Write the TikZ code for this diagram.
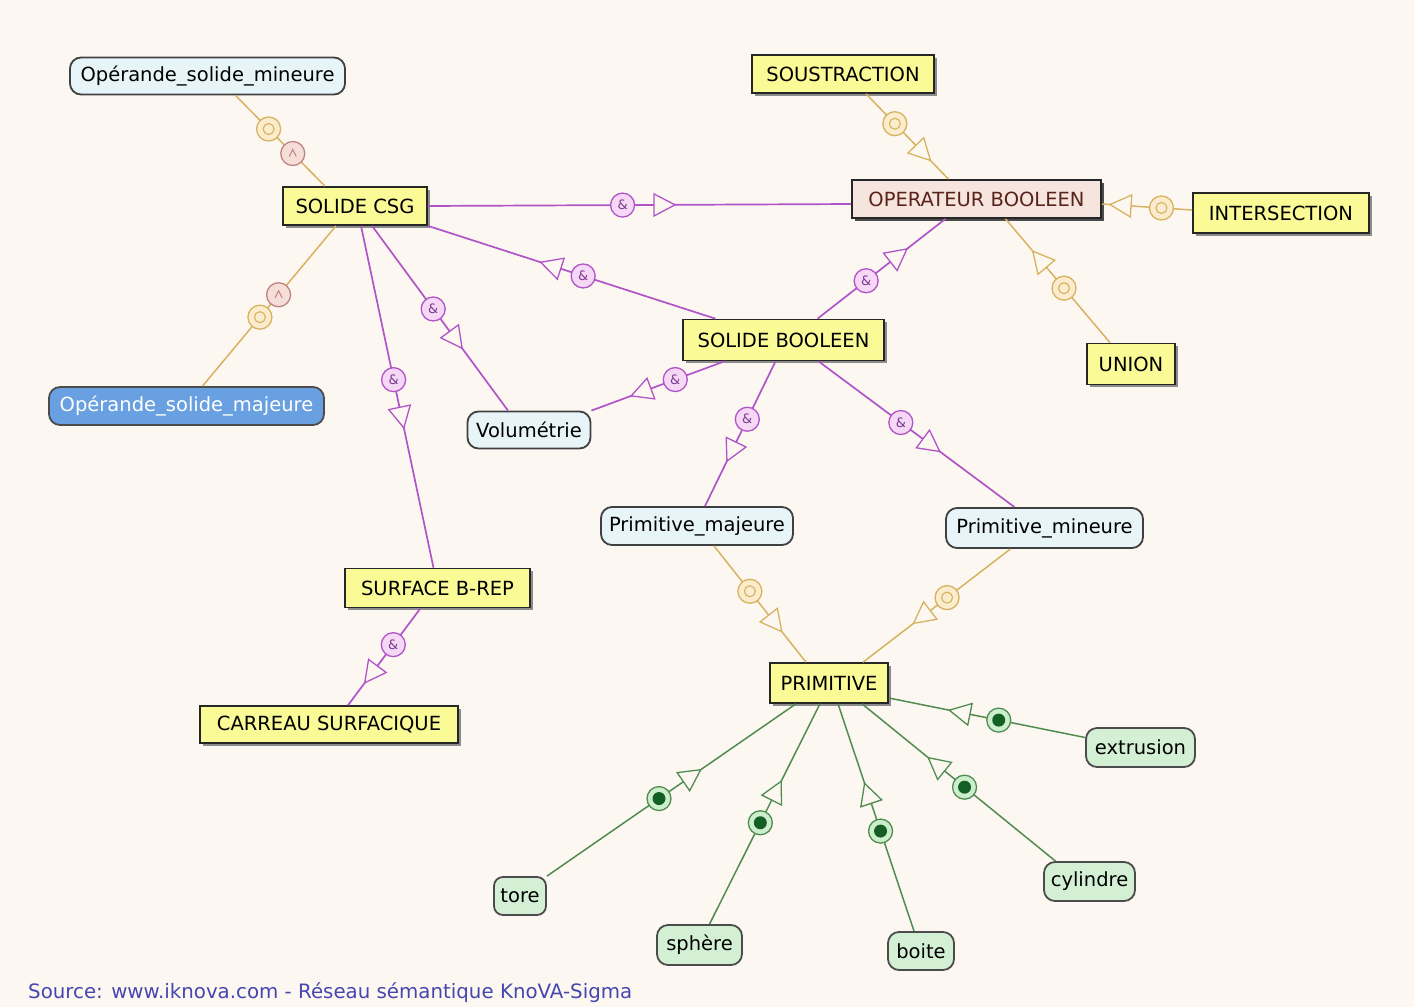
\documentclass[tikz,border=0pt]{standalone}
\usepackage{fontspec}
\setmainfont{DejaVu Sans}
\usetikzlibrary{shapes.geometric,shadows}
\definecolor{bg}{RGB}{253,247,242}
\definecolor{yfill}{RGB}{250,250,150}
\definecolor{obfill}{RGB}{246,228,222}
\definecolor{obtext}{RGB}{90,35,25}
\definecolor{bfill}{RGB}{232,245,248}
\definecolor{dbfill}{RGB}{105,160,225}
\definecolor{gfill}{RGB}{212,240,212}
\definecolor{pcol}{RGB}{175,85,200}
\definecolor{pfill}{RGB}{246,215,246}
\definecolor{ocol}{RGB}{215,178,95}
\definecolor{ofill}{RGB}{250,236,205}
\definecolor{scol}{RGB}{190,130,130}
\definecolor{sfill}{RGB}{246,222,216}
\definecolor{gcol}{RGB}{80,140,80}
\definecolor{gdark}{RGB}{20,95,35}
\definecolor{gmfill}{RGB}{205,238,205}
\definecolor{srccol}{RGB}{70,70,175}
\newcommand\nf{\fontsize{19.5}{22}\selectfont}
\begin{document}
\begin{tikzpicture}[x=1pt,y=-1pt,
  ybox/.style={draw=black!85, line width=1.6pt, fill=yfill, inner sep=2pt, font=\nf,
    drop shadow={shadow xshift=2.5pt, shadow yshift=-2.5pt, fill=black!45, opacity=1}},
  rbox/.style={draw=black!75, line width=1.8pt, fill=bfill, rounded corners=11pt, inner sep=2pt, font=\nf},
  gbox/.style={rbox, fill=gfill, draw=black!70},
  pline/.style={draw=pcol, line width=1.7pt},
  oline/.style={draw=ocol, line width=1.5pt},
  gline/.style={draw=gcol, line width=1.5pt},
  ampm/.style={circle, draw=pcol, fill=pfill, line width=1.3pt, minimum size=24pt, inner sep=0pt,
    font=\fontsize{13}{13}\selectfont, text=pcol!70!black},
  goldm/.style={circle, draw=ocol, fill=ofill, line width=1.3pt, minimum size=24pt, inner sep=0pt,
    path picture={\draw[ocol, line width=1.1pt] (path picture bounding box.center) circle (5.5pt);}},
  salm/.style={circle, draw=scol, fill=sfill, line width=1.3pt, minimum size=24pt, inner sep=0pt,
    path picture={\draw[scol, line width=1pt] ([xshift=-3.5pt,yshift=-3pt]path picture bounding box.center) -- ([yshift=4pt]path picture bounding box.center) -- ([xshift=3.5pt,yshift=-3pt]path picture bounding box.center);}},
  greenm/.style={circle, draw=gcol, fill=gmfill, line width=1.3pt, minimum size=24pt, inner sep=0pt,
    path picture={\fill[gdark] (path picture bounding box.center) circle (6.5pt);}},
  tri/.style={isosceles triangle, isosceles triangle apex angle=60, isosceles triangle stretches,
    minimum width=22pt, minimum height=21pt, inner sep=0pt, fill=bg, line width=1.3pt,
    sloped, allow upside down},
  ptri/.style={tri, draw=pcol},
  otri/.style={tri, draw=ocol},
  gtri/.style={tri, draw=gcol}
]
\fill[bg] (0,0) rectangle (1414,1007);
\useasboundingbox (0,0) rectangle (1414,1007);

% nodes
\node[rbox, minimum width=275pt, minimum height=37pt] (osm) at (207.5,76) {Opérande\_solide\_mineure};
\node[ybox, minimum width=144pt, minimum height=38pt] (csg) at (355,206) {SOLIDE CSG};
\node[ybox, minimum width=182pt, minimum height=38pt] (sous) at (843,74) {SOUSTRACTION};
\node[ybox, fill=obfill, text=obtext, minimum width=249pt, minimum height=38pt,
  drop shadow={shadow xshift=3pt, shadow yshift=-3pt, fill=black!70, opacity=1}] (ob) at (976.5,199) {OPERATEUR BOOLEEN};
\node[ybox, minimum width=176pt, minimum height=40pt] (inter) at (1281,213) {INTERSECTION};
\node[ybox, minimum width=88pt, minimum height=41pt] (union) at (1131,364) {UNION};
\node[ybox, minimum width=201pt, minimum height=41pt] (sb) at (783.5,340) {SOLIDE BOOLEEN};
\node[rbox, fill=dbfill, draw=black!70, text=white, minimum width=275pt, minimum height=38pt] (osmaj) at (186.5,406) {Opérande\_solide\_majeure};
\node[rbox, minimum width=123pt, minimum height=37pt] (vol) at (529,430) {Volumétrie};
\node[rbox, minimum width=192pt, minimum height=38pt] (pmaj) at (697,526) {Primitive\_majeure};
\node[rbox, minimum width=197pt, minimum height=40pt] (pmin) at (1044.5,528) {Primitive\_mineure};
\node[ybox, minimum width=118pt, minimum height=40pt] (prim) at (829,683) {PRIMITIVE};
\node[ybox, minimum width=185pt, minimum height=39pt] (sbr) at (437.5,588) {SURFACE B-REP};
\node[ybox, minimum width=258pt, minimum height=37pt] (car) at (329,724.5) {CARREAU SURFACIQUE};
\node[gbox, minimum width=109pt, minimum height=39pt] (ext) at (1140.5,747.5) {extrusion};
\node[gbox, minimum width=52pt, minimum height=38pt, rounded corners=9pt] (tore) at (520,896) {tore};
\node[gbox, minimum width=85pt, minimum height=40pt] (sph) at (699.5,945) {sphère};
\node[gbox, minimum width=66pt, minimum height=38pt] (boite) at (921,951) {boite};
\node[gbox, minimum width=91pt, minimum height=39pt] (cyl) at (1089.5,881.5) {cylindre};

% gold/salmon links (operands)
\draw[oline] ([xshift=28pt]osm.south) -- node[goldm,pos=0.37]{} node[salm,pos=0.64]{} ([xshift=-30pt]csg.north);
\draw[oline] ([xshift=-19pt]csg.south) -- node[salm,pos=0.43]{} node[goldm,pos=0.57]{} ([xshift=16pt]osmaj.north);

% purple links
\draw[pline] (csg.east) -- node[ampm,pos=0.46]{\&} node[ptri,pos=0.55]{} ([yshift=-5pt]ob.west);
\draw[pline] ([xshift=-68pt]sb.north) -- node[ampm,pos=0.46]{\&} node[ptri,pos=0.56]{} (csg.south east);
\draw[pline] ([xshift=17pt]csg.south) -- node[ampm,pos=0.45]{\&} node[ptri,pos=0.6]{} ([xshift=-21pt]vol.north);
\draw[pline] ([xshift=6pt]csg.south) -- node[ampm,pos=0.45]{\&} node[ptri,pos=0.55]{} ([xshift=-4pt]sbr.north);
\draw[pline] ([xshift=34pt]sb.north) -- node[ampm,pos=0.38]{\&} node[ptri,pos=0.61]{} ([xshift=-31pt]ob.south);
\draw[pline] ([xshift=-59pt]sb.south) -- node[ampm,pos=0.37]{\&} node[ptri,pos=0.6]{} (vol.north east);
\draw[pline] ([xshift=-8pt]sb.south) -- node[ampm,pos=0.4]{\&} node[ptri,pos=0.6]{} ([xshift=8pt]pmaj.north);
\draw[pline] ([xshift=35pt]sb.south) -- node[ampm,pos=0.42]{\&} node[ptri,pos=0.56]{} ([xshift=-30pt]pmin.north);
\draw[pline] ([xshift=-17pt]sbr.south) -- node[ampm,pos=0.375]{\&} node[ptri,pos=0.65]{} ([xshift=19pt]car.north);

% gold links
\draw[oline] ([xshift=23pt]sous.south) -- node[goldm,pos=0.35]{} node[otri,pos=0.66]{} ([xshift=-28pt]ob.north);
\draw[oline] ([yshift=3pt]inter.west) -- node[goldm,pos=0.34]{} node[otri,pos=0.75]{} ([yshift=-5pt]ob.east);
\draw[oline] ([xshift=-21pt]union.north) -- node[goldm,pos=0.44]{} node[otri,pos=0.65]{} ([xshift=29pt]ob.south);
\draw[oline] ([xshift=17pt]pmaj.south) -- node[goldm,pos=0.39]{} node[otri,pos=0.64]{} ([xshift=-23pt]prim.north);
\draw[oline] ([xshift=-34pt]pmin.south) -- node[goldm,pos=0.43]{} node[otri,pos=0.58]{} ([xshift=34pt]prim.north);

% green links
\draw[gline] ([yshift=10pt]ext.west) -- node[greenm,pos=0.44]{} node[gtri,pos=0.62]{} ([yshift=-15pt]prim.east);
\draw[gline] (tore.north east) -- node[greenm,pos=0.45]{} node[gtri,pos=0.57]{} ([xshift=-33pt]prim.south);
\draw[gline] ([xshift=10pt]sph.north) -- node[greenm,pos=0.46]{} node[gtri,pos=0.59]{} ([xshift=-9pt]prim.south);
\draw[gline] ([xshift=-7pt]boite.north) -- node[greenm,pos=0.44]{} node[gtri,pos=0.59]{} ([xshift=9pt]prim.south);
\draw[gline] ([xshift=-34pt]cyl.north) -- node[greenm,pos=0.47]{} node[gtri,pos=0.6]{} ([xshift=33pt]prim.south);

\node[anchor=base west, inner sep=0pt, font=\fontsize{19.8}{22}\selectfont, text=srccol] (src) at (28,998)
  {Source: www.iknova.com - Réseau sémantique KnoVA-Sigma};
\end{tikzpicture}
\end{document}
